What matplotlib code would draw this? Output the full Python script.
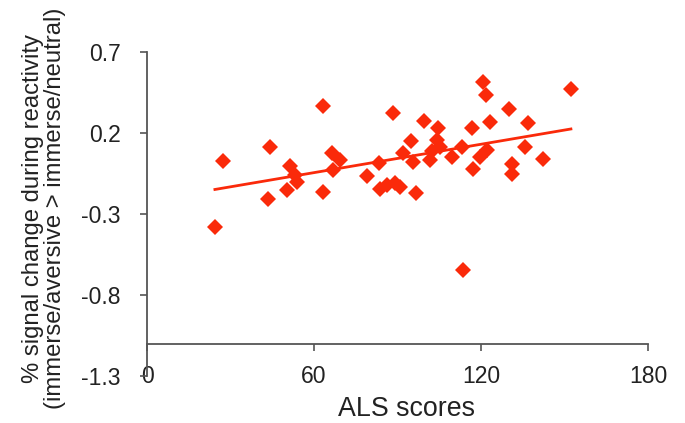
import numpy as np
import matplotlib.pyplot as plt

plt.rcParams['font.family'] = ['Liberation Sans', 'DejaVu Sans']

# ALS scores vs % signal change
als = [24.4, 27.4, 43.3, 44.2, 50.2, 51.4, 53.1, 53.8, 63.1, 63.3,
       66.4, 69.4, 66.9, 79.0, 83.4, 83.8, 86.1, 88.5, 89.1, 90.9,
       92.1, 94.8, 95.7, 96.7, 99.6, 101.7, 102.3, 104.1, 105.3, 104.7,
       109.5, 113.1, 113.6, 116.7, 117.3, 119.7, 122.1, 120.6, 121.8, 123.2,
       129.9, 131.1, 131.1, 135.8, 137.0, 142.2, 152.3]
signal = [-0.378, 0.029, -0.207, 0.112, -0.152, -0.004, -0.059, -0.100, -0.166, 0.367,
          0.078, 0.033, -0.028, -0.065, 0.017, -0.148, -0.120, 0.325, -0.110, -0.135,
          0.074, 0.153, 0.023, -0.172, 0.276, 0.033, 0.090, 0.157, 0.115, 0.229,
          0.054, 0.115, -0.646, 0.229, -0.024, 0.054, 0.095, 0.517, 0.435, 0.270,
          0.346, 0.009, -0.053, 0.112, 0.260, 0.038, 0.472]

xticks = [0, 60, 120, 180]
yticks = [-1.3, -0.8, -0.3, 0.2, 0.7]

red = '#fa2a0a'
grey = '#555555'

als = np.array(als)
signal = np.array(signal)

fig = plt.figure(figsize=(6.85, 4.23), dpi=100)
ax = fig.add_axes([147 / 685, 1 - 376 / 423, 501 / 685, 324 / 423])

# trendline (linear fit, like the Excel one)
k, b = np.polyfit(als, signal, 1)
xs = np.array([als.min(), als.max()])
ax.plot(xs, k * xs + b, color=red, lw=2.0, zorder=2)

ax.plot(als, signal, 'D', color=red, ms=8.5, mew=0, zorder=3)

ax.set_xlim(0, 180)
ax.set_ylim(-1.3, 0.7)
ax.set_xticks(xticks)
ax.set_yticks(yticks)
ax.set_yticklabels([f'{v:.1f}' for v in yticks])

for s in ['top', 'right']:
    ax.spines[s].set_visible(False)
ax.spines['bottom'].set_position(('data', -1.10))
for s in ['left', 'bottom']:
    ax.spines[s].set_color(grey)
    ax.spines[s].set_linewidth(1.3)

ax.tick_params(axis='y', direction='out', length=5, width=1.2, color=grey,
               pad=14, labelsize=16.5, labelcolor='#222222')
ax.tick_params(axis='x', direction='out', length=5, width=1.2, color=grey,
               pad=10.5, labelsize=16.5, labelcolor='#222222')

fig.text(406 / 685, 1 - 409 / 423, 'ALS scores', ha='center', va='center',
         fontsize=19.3, color='#222222')
fig.text(44 / 685, 1 - 208 / 423,
         '% signal change during reactivity\n(immerse/aversive > immerse/neutral)',
         rotation=90, ha='center', va='center', fontsize=17.2, color='#222222',
         linespacing=1.0)

fig.savefig('out.png', dpi=100)
